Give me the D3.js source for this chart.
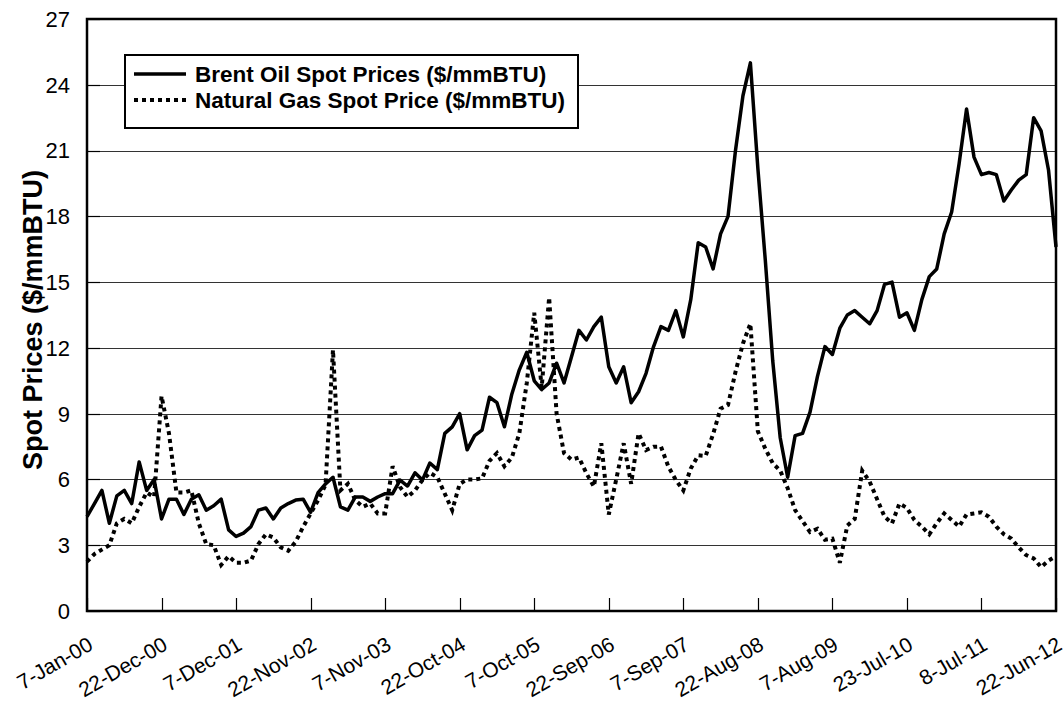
<!DOCTYPE html>
<html>
<head>
<meta charset="utf-8">
<script src="https://cdn.jsdelivr.net/npm/d3@7/dist/d3.min.js"></script>
<style>
  body { margin: 0; background: #fff; }
  text { font-family: "Liberation Sans", Arial, sans-serif; fill: #000; }
</style>
</head>
<body>
<svg id="chart"></svg>
<script>
// weekly series, read every 5 weeks from 7-Jan-00
const stepWeeks = 5;
const tickLabels = ["7-Jan-00", "22-Dec-00", "7-Dec-01", "22-Nov-02", "7-Nov-03", "22-Oct-04",
  "7-Oct-05", "22-Sep-06", "7-Sep-07", "22-Aug-08", "7-Aug-09", "23-Jul-10", "8-Jul-11", "22-Jun-12"];
const yTicks = [0, 3, 6, 9, 12, 15, 18, 21, 24, 27];
const seriesNames = ["Brent Oil Spot Prices ($/mmBTU)", "Natural Gas Spot Price ($/mmBTU)"];
const yTitle = "Spot Prices ($/mmBTU)";

const oilPrices = [
  4.3, 4.9, 5.5, 4.0, 5.25, 5.5, 4.9, 6.8, 5.5, 6.0, 4.2,
  5.1, 5.1, 4.4, 5.1, 5.3, 4.6, 4.8, 5.1, 3.7, 3.4,
  3.55, 3.85, 4.6, 4.7, 4.2, 4.7, 4.9, 5.06, 5.1, 4.5,
  5.4, 5.8, 6.1, 4.75, 4.6, 5.2, 5.2, 5.0, 5.2, 5.35,
  5.35, 5.97, 5.7, 6.3, 5.97, 6.75, 6.45, 8.1, 8.4, 9.0,
  7.35, 8.0, 8.25, 9.75, 9.5, 8.4, 9.9, 11.0, 11.8, 10.5,
  10.1, 10.4, 11.3, 10.4, 11.6, 12.8, 12.36, 12.97, 13.4, 11.14,
  10.4, 11.14, 9.5, 10.0, 10.84, 12.05, 12.97, 12.8, 13.7, 12.5,
  14.2, 16.8, 16.6, 15.6, 17.2, 18.0, 21.0, 23.5, 25.0, 20.2,
  16.0, 11.4, 7.9, 6.1, 8.0, 8.1, 9.07, 10.7, 12.06, 11.7,
  12.9, 13.5, 13.7, 13.4, 13.1, 13.7, 14.9, 15.0, 13.4, 13.6,
  12.8, 14.2, 15.25, 15.6, 17.2, 18.2, 20.4, 22.9, 20.7, 19.9,
  20.0, 19.9, 18.7, 19.2, 19.65, 19.9, 22.5, 21.9, 20.1, 16.6
];

const gasPrices = [
  2.25, 2.6, 2.8, 3.0, 4.0, 4.2, 4.0, 4.75, 5.4, 5.2, 9.8,
  8.1, 5.4, 5.4, 5.5, 4.0, 3.05, 3.0, 2.1, 2.5, 2.2,
  2.2, 2.3, 3.05, 3.5, 3.35, 2.9, 2.75, 3.16, 3.84, 4.45,
  5.05, 5.75, 11.9, 5.5, 5.8, 5.05, 4.75, 4.9, 4.45, 4.45,
  6.6, 5.65, 5.2, 5.5, 5.97, 6.3, 6.1, 5.35, 4.6, 5.8,
  6.0, 6.0, 6.05, 6.85, 7.2, 6.6, 7.0, 8.1, 10.4, 13.6,
  10.2, 14.3, 9.0, 7.2, 6.9, 7.0, 6.28, 5.67, 7.65, 4.4,
  6.0, 7.65, 5.8, 8.1, 7.34, 7.49, 7.5, 6.58, 5.97, 5.5,
  6.5, 7.1, 7.07, 8.07, 9.23, 9.4, 10.9, 12.2, 13.1, 8.2,
  7.4, 6.74, 6.4, 5.6, 4.6, 4.1, 3.6, 3.75, 3.25, 3.3,
  2.2, 3.9, 4.2, 6.4, 5.9, 5.1, 4.3, 4.0, 4.9, 4.7,
  4.15, 3.85, 3.5, 4.0, 4.45, 4.15, 3.85, 4.4, 4.45, 4.5,
  4.3, 3.85, 3.5, 3.3, 2.9, 2.55, 2.4, 2.0, 2.3, 2.5
];

// set the dimensions and margins of the graph
var margin = {top: 19, right: 8, bottom: 95, left: 87},
    width = 1064 - margin.left - margin.right,
    height = 706 - margin.top - margin.bottom;

var parseTime = d3.timeParse("%d-%b-%y");
var startDate = parseTime(tickLabels[0]);
var tickDates = tickLabels.map(parseTime);

var x = d3.scaleTime()
  .domain([startDate, tickDates[tickDates.length - 1]])
  .range([0, width]);
var y = d3.scaleLinear().domain([0, 27]).range([height, 0]);

var dates = oilPrices.map(function(d, i) { return d3.timeDay.offset(startDate, i * 7 * stepWeeks); });

var svg = d3.select("#chart")
  .attr("width", 1064)
  .attr("height", 706)
  .append("g")
  .attr("transform", "translate(" + margin.left + "," + margin.top + ")");

// gridlines
svg.selectAll(".grid")
  .data(yTicks.slice(1, -1))
  .enter().append("line")
  .attr("x1", 0).attr("x2", width)
  .attr("y1", function(d) { return Math.round(y(d)) + 0.5; })
  .attr("y2", function(d) { return Math.round(y(d)) + 0.5; })
  .attr("stroke", "#333")
  .attr("stroke-width", 1);

// inner tick marks
svg.selectAll(".ytick")
  .data(yTicks)
  .enter().append("line")
  .attr("x1", 0).attr("x2", 13)
  .attr("y1", function(d) { return Math.round(y(d)) + 0.5; })
  .attr("y2", function(d) { return Math.round(y(d)) + 0.5; })
  .attr("stroke", "#000").attr("stroke-width", 1.2);

svg.selectAll(".xtick")
  .data(tickDates)
  .enter().append("line")
  .attr("x1", function(d) { return Math.round(x(d)) + 0.5; })
  .attr("x2", function(d) { return Math.round(x(d)) + 0.5; })
  .attr("y1", height).attr("y2", height - 13)
  .attr("stroke", "#000").attr("stroke-width", 1.2);

// y labels
svg.selectAll(".ylab")
  .data(yTicks)
  .enter().append("text")
  .attr("x", -17)
  .attr("y", function(d) { return y(d); })
  .attr("dy", "0.36em")
  .attr("text-anchor", "end")
  .style("font-size", "22px")
  .text(function(d) { return d; });

// x labels
svg.selectAll(".xlab")
  .data(tickLabels)
  .enter().append("text")
  .attr("transform", function(d, i) {
    return "translate(" + x(tickDates[i]) + "," + (height + 25) + ") rotate(-30)";
  })
  .attr("text-anchor", "end")
  .attr("dy", "0.7em")
  .style("font-size", "21px")
  .text(function(d) { return d; });

// y title
svg.append("text")
  .attr("transform", "translate(-45," + (height / 2 + 5) + ") rotate(-90)")
  .attr("text-anchor", "middle")
  .style("font-size", "27px")
  .style("font-weight", "bold")
  .text(yTitle);

// the lines
var valueline = d3.line()
  .x(function(d, i) { return x(dates[i]); })
  .y(function(d) { return y(d); });

svg.append("path")
  .datum(gasPrices)
  .attr("d", valueline)
  .attr("fill", "none")
  .attr("stroke", "#000")
  .attr("stroke-width", 4)
  .attr("stroke-dasharray", "4,4");

svg.append("path")
  .datum(oilPrices)
  .attr("d", valueline)
  .attr("fill", "none")
  .attr("stroke", "#000")
  .attr("stroke-width", 3.5)
  .attr("stroke-linejoin", "round");

// plot frame
svg.append("rect")
  .attr("x", 0).attr("y", 0)
  .attr("width", width).attr("height", height)
  .attr("fill", "none")
  .attr("stroke", "#000")
  .attr("stroke-width", 2.5);

// legend
var legend = svg.append("g").attr("transform", "translate(38,36)");
legend.append("rect")
  .attr("width", 453).attr("height", 73)
  .attr("fill", "#fff").attr("stroke", "#000").attr("stroke-width", 2);

var styles = [{dash: null, w: 3.5}, {dash: "4,4", w: 4}];
seriesNames.forEach(function(name, i) {
  var yy = 19 + i * 26;
  legend.append("line")
    .attr("x1", 9).attr("x2", 61)
    .attr("y1", yy).attr("y2", yy)
    .attr("stroke", "#000")
    .attr("stroke-width", styles[i].w)
    .attr("stroke-dasharray", styles[i].dash);
  legend.append("text")
    .attr("x", 70).attr("y", yy)
    .attr("dy", "0.36em")
    .style("font-size", "22.5px")
    .style("font-weight", "bold")
    .text(name);
});
</script>
</body>
</html>
